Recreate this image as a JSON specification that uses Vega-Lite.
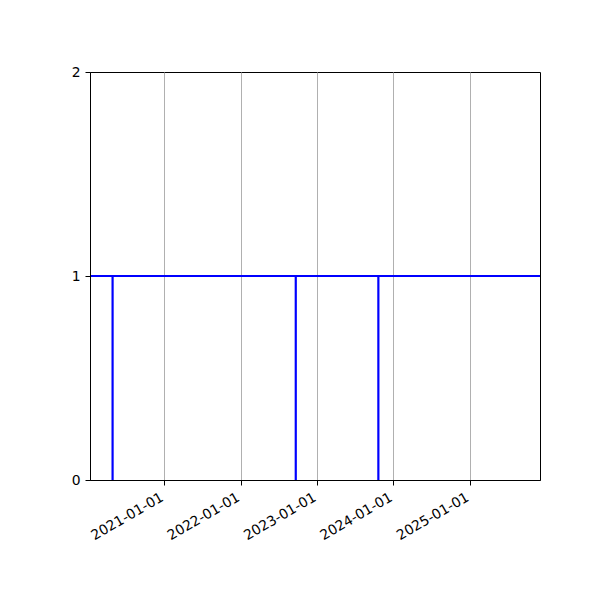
{
  "$schema": "https://vega.github.io/schema/vega-lite/v6.json",
  "autosize": "none",
  "padding": {"left": 90, "top": 72, "right": 60, "bottom": 120},
  "width": 450,
  "height": 408,
  "background": "white",
  "config": {
    "font": "DejaVu Sans",
    "view": {"stroke": "black", "strokeWidth": 1},
    "axis": {
      "labelFont": "DejaVu Sans",
      "labelFontSize": 13.9,
      "labelColor": "black",
      "tickColor": "black",
      "tickSize": 5,
      "labelPadding": 5,
      "domainColor": "black",
      "title": null
    }
  },
  "layer": [
    {
      "data": {
        "values": [
          {"date": "2020-04-28", "lo": 0, "hi": 1},
          {"date": "2022-09-21", "lo": 0, "hi": 1},
          {"date": "2023-10-21", "lo": 0, "hi": 1}
        ]
      },
      "mark": {"type": "rule", "color": "blue", "strokeWidth": 2.2},
      "encoding": {
        "x": {
          "field": "date",
          "type": "temporal",
          "scale": {"type": "utc", "domain": ["2020-01-11", "2025-12-02"], "nice": false},
          "axis": {
            "values": ["2021-01-01", "2022-01-01", "2023-01-01", "2024-01-01", "2025-01-01"],
            "format": "%Y-%m-%d",
            "labelAngle": -30,
            "labelAlign": "right",
            "labelBaseline": "top",
            "labelOffset": -6,
            "labelFlush": false,
            "labelOverlap": false,
            "grid": true,
            "gridColor": "#b0b0b0",
            "gridWidth": 1
          }
        },
        "y": {
          "field": "lo",
          "type": "quantitative",
          "scale": {"domain": [0, 2], "nice": false},
          "axis": {"tickCount": 2, "format": "d", "grid": false, "labelOverlap": false, "labelFlush": false, "zindex": 1}
        },
        "y2": {"field": "hi"}
      }
    },
    {
      "data": {"values": [{"level": 1}]},
      "mark": {"type": "rule", "color": "blue", "strokeWidth": 2.2},
      "encoding": {
        "y": {"field": "level", "type": "quantitative"}
      }
    }
  ]
}
